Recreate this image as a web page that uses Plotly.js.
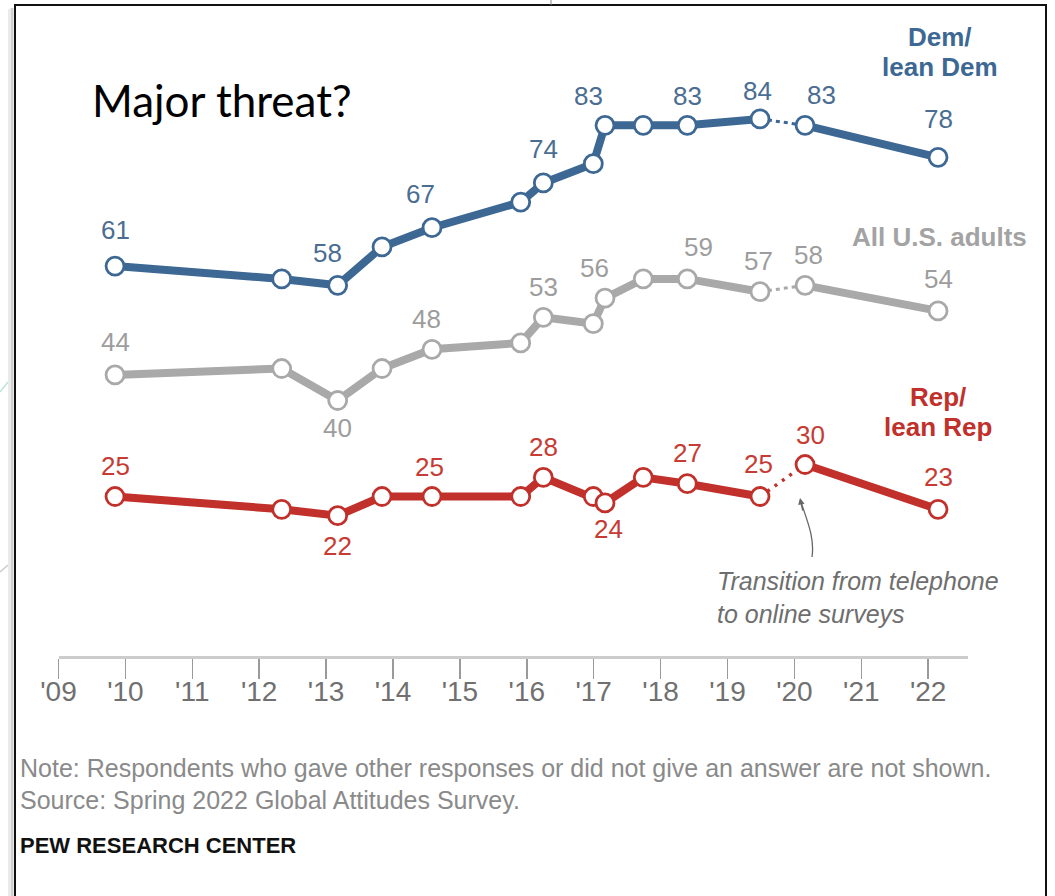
<!DOCTYPE html>
<html>
<head>
<meta charset="utf-8">
<script src="https://cdn.plot.ly/plotly-3.0.1.min.js"></script>
<style>
html,body{margin:0;padding:0;background:#fff;}
#chart{width:1055px;height:896px;}
</style>
</head>
<body>
<div id="chart"></div>
<script>
// ---- data ----
const surveyYears = [2009.845, 2012.336, 2013.173, 2013.836, 2014.583, 2015.909, 2016.247, 2016.994, 2017.169, 2017.741, 2018.399, 2019.486, 2020.159, 2022.147];
const demLean   = [61, 59, 58, 64, 67, 71, 74, 77, 83, 83, 83, 84, 83, 78];
const allAdults = [44, 45, 40, 45, 48, 49, 53, 52, 56, 59, 59, 57, 58, 54];
const repLean   = [25, 23, 22, 25, 25, 25, 28, 25, 24, 28, 27, 25, 30, 23];
const lastPhoneIndex = 11;           // telephone surveys up to here, online afterwards
const tickYears = [2009,2010,2011,2012,2013,2014,2015,2016,2017,2018,2019,2020,2021,2022];
const tickLabels = ["'09","'10","'11","'12","'13","'14","'15","'16","'17","'18","'19","'20","'21","'22"];

// ---- styling ----
const W = 1055, H = 896;
const FONT = 'Liberation Sans, Arial, sans-serif';
const series = [
  {name:'Dem/lean Dem', values: demLean,   line:'#3d6894', label:'#4b6d92', dash:'4px,4px', lw:3},
  {name:'All U.S. adults', values: allAdults, line:'#a9a9a9', label:'#9d9d9d', dash:'4px,4px', lw:3},
  {name:'Rep/lean Rep', values: repLean,   line:'#c1302a', label:'#c63b34', dash:'3px,6px', lw:3.5}
];
// label placement per series: [pointIndex, dx, dy] (pixels; dy negative = above)
const labelPlacement = [
  [[0,0,-36],[2,-10,-32],[4,-12,-34],[6,0,-34],[8,-17,-29],[10,0,-29],[11,-3,-28],[12,16,-30],[13,0,-38]],
  [[0,0,-33],[2,0,27],[4,-6,-30],[6,0,-30],[8,-11,-30],[10,11,-32],[11,-2,-31],[12,3,-30],[13,0,-32]],
  [[0,0,-31],[2,0,30],[4,-3,-30],[6,0,-30],[8,3,26],[10,0,-31],[11,-2,-33],[12,5,-30],[13,0,-32]]
];

const px = x => x / W;
const py = y => 1 - y / H;

const traces = [];
const annotations = [];
series.forEach((s, si) => {
  // connector between survey modes
  traces.push({
    x: surveyYears.slice(lastPhoneIndex, lastPhoneIndex + 2),
    y: s.values.slice(lastPhoneIndex, lastPhoneIndex + 2),
    mode: 'lines', line: {color: s.line, width: s.lw, dash: s.dash},
    hoverinfo: 'skip', showlegend: false
  });
  // telephone segment
  traces.push({
    x: surveyYears.slice(0, lastPhoneIndex + 1),
    y: s.values.slice(0, lastPhoneIndex + 1),
    mode: 'lines', line: {color: s.line, width: 8},
    showlegend: false, hoverinfo: 'skip'
  });
  // online segment
  traces.push({
    x: surveyYears.slice(lastPhoneIndex + 1),
    y: s.values.slice(lastPhoneIndex + 1),
    mode: 'lines', line: {color: s.line, width: 8},
    showlegend: false, hoverinfo: 'skip'
  });
});
series.forEach((s, si) => {
  traces.push({
    x: surveyYears, y: s.values, name: s.name,
    mode: 'markers',
    marker: {size: 18, color: '#ffffff', line: {color: s.line, width: 2.8}},
    showlegend: false
  });
  labelPlacement[si].forEach(([i, dx, dy]) => {
    annotations.push({
      xref: 'x', yref: 'y', x: surveyYears[i], y: s.values[i],
      text: String(s.values[i]), showarrow: false,
      xshift: dx, yshift: -dy,
      font: {family: FONT, size: 26, color: s.label}
    });
  });
});

function txt(x, y, text, opts) {
  return Object.assign({
    xref: 'paper', yref: 'paper', x: px(x), y: py(y), text: text,
    showarrow: false, xanchor: 'center', yanchor: 'middle',
    font: {family: FONT, size: 22, color: '#000'}
  }, opts || {});
}

annotations.push(
  txt(90, 100, 'Major threat?', {xanchor: 'left', font: {family: 'Lato, Carlito, sans-serif', size: 44, color: '#000'}}),
  txt(940, 37, '<b>Dem/</b>', {font: {family: FONT, size: 26, color: series[0].line}}),
  txt(940, 67, '<b>lean Dem</b>', {font: {family: FONT, size: 26, color: series[0].line}}),
  txt(939, 237, '<b>All U.S. adults</b>', {font: {family: FONT, size: 26, color: '#a3a3a3'}}),
  txt(938, 397, '<b>Rep/</b>', {font: {family: FONT, size: 26, color: series[2].line}}),
  txt(938, 427, '<b>lean Rep</b>', {font: {family: FONT, size: 26, color: series[2].line}}),
  txt(715, 581, '<i>Transition from telephone</i>', {xanchor: 'left', font: {family: FONT, size: 25, color: '#6e6e6e'}}),
  txt(715, 614, '<i>to online surveys</i>', {xanchor: 'left', font: {family: FONT, size: 25, color: '#6e6e6e'}}),
  txt(18, 768, 'Note: Respondents who gave other responses or did not give an answer are not shown.', {xanchor: 'left', font: {family: FONT, size: 25, color: '#8a8a8a'}}),
  txt(18, 800, 'Source: Spring 2022 Global Attitudes Survey.', {xanchor: 'left', font: {family: FONT, size: 25, color: '#8a8a8a'}}),
  txt(18, 845, '<b>PEW RESEARCH CENTER</b>', {xanchor: 'left', font: {family: FONT, size: 22, color: '#111'}}),
  // arrow head for the curved pointer
  {xref: 'paper', yref: 'paper', x: px(800), y: py(498), text: '', showarrow: true,
   ax: 3, ay: 14, arrowhead: 2, arrowsize: 1, arrowwidth: 1.3, arrowcolor: '#666', standoff: 0}
);

const shapes = [
  // curved pointer
  {type: 'path', xref: 'paper', yref: 'paper',
   path: 'M ' + px(812) + ',' + py(557) + ' C ' + px(815) + ',' + py(537) + ' ' + px(806) + ',' + py(518) + ' ' + px(801) + ',' + py(502),
   line: {color: '#666', width: 1.3}},
  // frame shadow
  {type: 'line', xref: 'paper', yref: 'paper', x0: px(12), x1: px(12), y0: py(8), y1: py(900), line: {color: '#d0d0d0', width: 3}},
  {type: 'line', xref: 'paper', yref: 'paper', x0: px(9.5), x1: px(9.5), y0: py(9), y1: py(900), line: {color: '#ebebeb', width: 3}},
  // frame
  {type: 'rect', xref: 'paper', yref: 'paper', x0: px(15), x1: px(1046), y0: py(5), y1: py(905), line: {color: '#111', width: 2}},
  // stray line above frame
  {type: 'line', xref: 'paper', yref: 'paper', x0: px(551), x1: px(551), y0: py(0), y1: py(5), line: {color: '#888', width: 1}},
  // faint lines left of the frame
  {type: 'line', xref: 'paper', yref: 'paper', x0: px(0), x1: px(8), y0: py(392), y1: py(382), line: {color: '#bfe3dc', width: 1.5}},
  {type: 'line', xref: 'paper', yref: 'paper', x0: px(0), x1: px(8), y0: py(572), y1: py(565), line: {color: '#cccccc', width: 1.5}}
];

const layout = {
  width: W, height: H,
  margin: {l: 0, r: 0, t: 0, b: 0},
  paper_bgcolor: '#fff', plot_bgcolor: 'rgba(0,0,0,0)',
  showlegend: false,
  xaxis: {
    domain: [58.5 / W, 968 / W],
    range: [2009, 2009 + (968 - 58.5) / 66.9],
    anchor: 'free', position: py(656.5),
    showgrid: false, zeroline: false,
    showline: true, linecolor: '#cccccc', linewidth: 3,
    ticks: 'outside', ticklen: 20, tickwidth: 1.5, tickcolor: '#9a9a9a',
    ticklabelstandoff: -11,
    tickvals: tickYears, ticktext: tickLabels,
    tickfont: {family: FONT, size: 28, color: '#707070'}
  },
  yaxis: {
    domain: [0, 1],
    range: [-37.42, 102.58],
    visible: false, showgrid: false, zeroline: false
  },
  annotations: annotations,
  shapes: shapes
};

Plotly.newPlot('chart', traces, layout, {displayModeBar: false, staticPlot: true});
</script>
</body>
</html>
